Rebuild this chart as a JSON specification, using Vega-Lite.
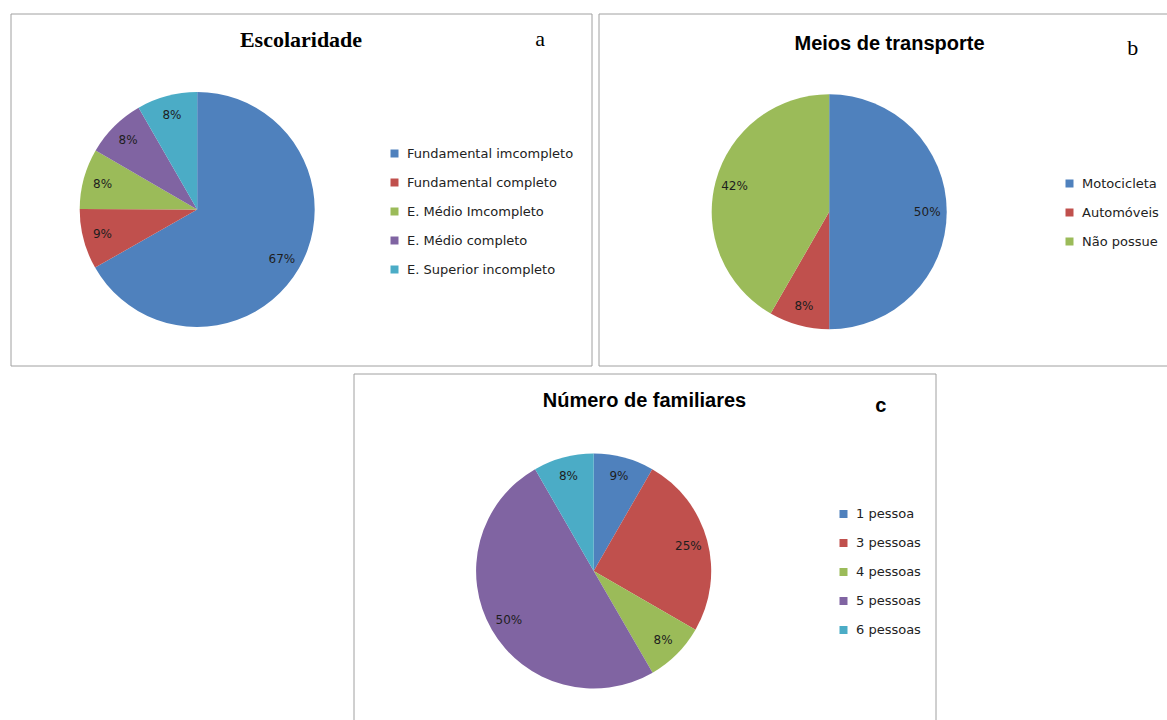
{
  "$schema": "https://vega.github.io/schema/vega-lite/v6.json",
  "padding": {"left": 9.5, "top": 12.5, "right": 0, "bottom": 0},
  "background": "white",
  "config": {
    "view": {"stroke": "#a0a0a0", "strokeWidth": 1},
    "legend": {
      "orient": "none",
      "title": null,
      "symbolType": "square",
      "symbolSize": 64,
      "symbolStrokeWidth": 0,
      "labelFont": "DejaVu Sans",
      "labelFontSize": 13,
      "labelColor": "#222222",
      "rowPadding": 15,
      "labelOffset": 6,
      "labelLimit": 400,
      "padding": 0
    }
  },
  "resolve": {"scale": {"color": "independent", "theta": "independent"}, "legend": {"color": "independent"}},
  "spacing": 6,
  "vconcat": [
    {
      "spacing": 5,
      "resolve": {"scale": {"color": "independent", "theta": "independent"}, "legend": {"color": "independent"}},
      "hconcat": [
        {
          "title": {"text": "a", "anchor": "end", "frame": "bounds", "font": "Liberation Serif", "fontSize": 22, "fontWeight": "normal", "color": "#000000", "offset": -38.3, "dx": -47},
          "vconcat": [
            {
              "width": 581,
              "height": 352,
              "view": {"stroke": "#a0a0a0", "strokeWidth": 1},
              "title": {"text": "Escolaridade", "anchor": "middle", "frame": "group", "font": "Liberation Serif", "fontSize": 22, "fontWeight": "bold", "color": "#000000", "offset": -38.3},
              "data": {"values": [
                {"categoria": "Fundamental imcompleto", "share": 66.7, "rotulo": "67%", "ordem": 1},
                {"categoria": "Fundamental completo", "share": 8.3, "rotulo": "9%", "ordem": 2},
                {"categoria": "E. Médio Imcompleto", "share": 8.3, "rotulo": "8%", "ordem": 3},
                {"categoria": "E. Médio completo", "share": 8.3, "rotulo": "8%", "ordem": 4},
                {"categoria": "E. Superior incompleto", "share": 8.3, "rotulo": "8%", "ordem": 5}
              ]},
              "encoding": {
                "theta": {"field": "share", "type": "quantitative", "stack": true},
                "order": {"field": "ordem", "type": "quantitative"}
              },
              "layer": [
                {
                  "mark": {"type": "arc", "outerRadius": 117.5, "x": 186.7, "y": 196},
                  "encoding": {
                    "color": {
                      "field": "categoria", "type": "nominal",
                      "scale": {
                        "domain": ["Fundamental imcompleto", "Fundamental completo", "E. Médio Imcompleto", "E. Médio completo", "E. Superior incompleto"],
                        "range": ["#4F81BD", "#C0504D", "#9BBB59", "#8064A2", "#4BACC6"]
                      },
                      "legend": {"legendX": 377.5, "legendY": 133.5}
                    }
                  }
                },
                {
                  "mark": {"type": "text", "radius": 98, "x": 186.7, "y": 196, "font": "DejaVu Sans", "fontSize": 12, "fill": "#1e1e1e", "align": "center", "baseline": "middle"},
                  "encoding": {
                    "detail": {"field": "categoria", "type": "nominal"},
                    "text": {"field": "rotulo", "type": "nominal"}
                  }
                }
              ]
            }
          ]
        },
        {
          "title": {"text": "b", "anchor": "end", "frame": "bounds", "font": "Liberation Serif", "fontSize": 22, "fontWeight": "normal", "color": "#000000", "offset": -46.6, "dx": -42.7},
          "vconcat": [
            {
              "width": 582,
              "height": 352,
              "view": {"stroke": "#a0a0a0", "strokeWidth": 1},
              "title": {"text": "Meios de transporte", "anchor": "middle", "frame": "group", "font": "Liberation Sans", "fontSize": 20, "fontWeight": "bold", "color": "#000000", "offset": -40.2},
              "data": {"values": [
                {"categoria": "Motocicleta", "share": 50, "rotulo": "50%", "ordem": 1},
                {"categoria": "Automóveis", "share": 8.3, "rotulo": "8%", "ordem": 2},
                {"categoria": "Não possue", "share": 41.7, "rotulo": "42%", "ordem": 3}
              ]},
              "encoding": {
                "theta": {"field": "share", "type": "quantitative", "stack": true},
                "order": {"field": "ordem", "type": "quantitative"}
              },
              "layer": [
                {
                  "mark": {"type": "arc", "outerRadius": 117.5, "x": 230.7, "y": 198.2},
                  "encoding": {
                    "color": {
                      "field": "categoria", "type": "nominal",
                      "scale": {
                        "domain": ["Motocicleta", "Automóveis", "Não possue"],
                        "range": ["#4F81BD", "#C0504D", "#9BBB59"]
                      },
                      "legend": {"legendX": 464.5, "legendY": 163.5}
                    }
                  }
                },
                {
                  "mark": {"type": "text", "radius": 98, "x": 230.7, "y": 198.2, "font": "DejaVu Sans", "fontSize": 12, "fill": "#1e1e1e", "align": "center", "baseline": "middle"},
                  "encoding": {
                    "detail": {"field": "categoria", "type": "nominal"},
                    "text": {"field": "rotulo", "type": "nominal"}
                  }
                }
              ]
            }
          ]
        }
      ]
    },
    {
      "spacing": 0,
      "resolve": {"scale": {"color": "independent", "theta": "independent"}, "legend": {"color": "independent"}},
      "hconcat": [
        {
          "width": 342,
          "height": 352,
          "view": {"stroke": null},
          "data": {"values": []},
          "mark": "rect",
          "encoding": {}
        },
        {
          "title": {"text": "c", "anchor": "end", "frame": "bounds", "font": "Liberation Sans", "fontSize": 20, "fontWeight": "bold", "color": "#000000", "offset": -42.6, "dx": -49.6},
          "vconcat": [
            {
              "width": 582,
              "height": 352,
              "view": {"stroke": "#a0a0a0", "strokeWidth": 1},
              "title": {"text": "Número de familiares", "anchor": "middle", "frame": "group", "font": "Liberation Sans", "fontSize": 20, "fontWeight": "bold", "color": "#000000", "offset": -37.9},
              "data": {"values": [
                {"categoria": "1 pessoa", "share": 8.3, "rotulo": "9%", "ordem": 1},
                {"categoria": "3 pessoas", "share": 25, "rotulo": "25%", "ordem": 2},
                {"categoria": "4 pessoas", "share": 8.3, "rotulo": "8%", "ordem": 3},
                {"categoria": "5 pessoas", "share": 50, "rotulo": "50%", "ordem": 4},
                {"categoria": "6 pessoas", "share": 8.3, "rotulo": "8%", "ordem": 5}
              ]},
              "encoding": {
                "theta": {"field": "share", "type": "quantitative", "stack": true},
                "order": {"field": "ordem", "type": "quantitative"}
              },
              "layer": [
                {
                  "mark": {"type": "arc", "outerRadius": 117.5, "x": 240.2, "y": 197.5},
                  "encoding": {
                    "color": {
                      "field": "categoria", "type": "nominal",
                      "scale": {
                        "domain": ["1 pessoa", "3 pessoas", "4 pessoas", "5 pessoas", "6 pessoas"],
                        "range": ["#4F81BD", "#C0504D", "#9BBB59", "#8064A2", "#4BACC6"]
                      },
                      "legend": {"legendX": 483.5, "legendY": 134}
                    }
                  }
                },
                {
                  "mark": {"type": "text", "radius": 98, "x": 240.2, "y": 197.5, "font": "DejaVu Sans", "fontSize": 12, "fill": "#1e1e1e", "align": "center", "baseline": "middle"},
                  "encoding": {
                    "detail": {"field": "categoria", "type": "nominal"},
                    "text": {"field": "rotulo", "type": "nominal"}
                  }
                }
              ]
            }
          ]
        }
      ]
    }
  ]
}
